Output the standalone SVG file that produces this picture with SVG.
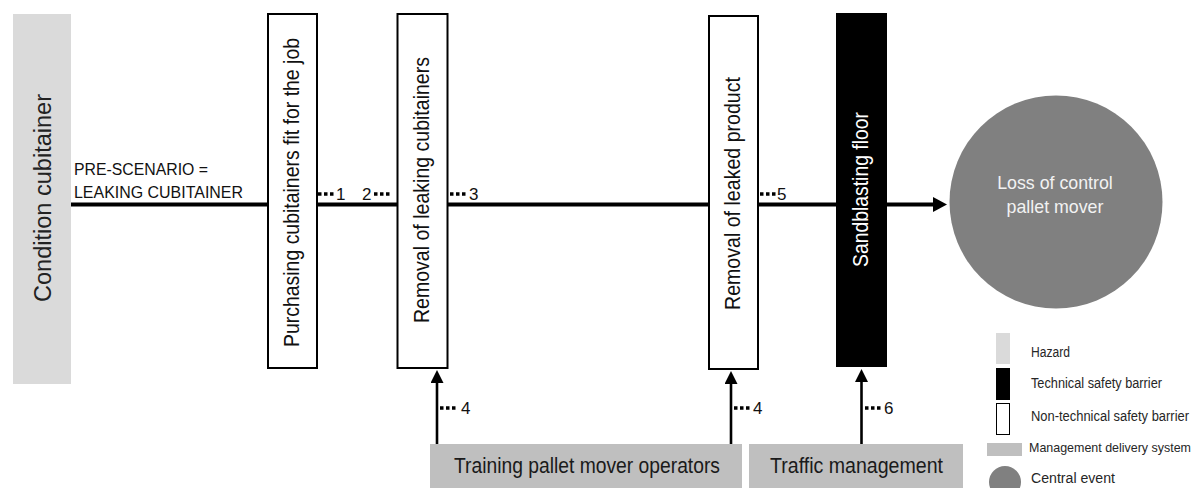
<svg xmlns="http://www.w3.org/2000/svg" width="1200" height="488" viewBox="0 0 1200 488">
<style>
text{font-family:"Liberation Sans",Arial,sans-serif;}
.hz{fill:#dadada;}
.nt{fill:#fff;stroke:#000;stroke-width:2;}
.tb{fill:#000;}
.mg{fill:#bfbfbf;}
.ce{fill:#808080;}
.vt{font-size:21.5px;fill:#111;text-anchor:middle;}
.mt{font-size:21.5px;fill:#1a1a1a;text-anchor:middle;}
.num{font-size:17px;fill:#111;}
.dots{stroke:#000;stroke-width:3.5;stroke-dasharray:3.5 2.5;}
.lg{font-size:14px;fill:#262626;}
.conn{stroke:#000;fill:none;}
</style>
<defs>
<marker id="arrMain" viewBox="0 0 14 15" refX="7" refY="7.5" markerWidth="14" markerHeight="15" markerUnits="userSpaceOnUse" orient="auto"><path d="M0,0 L14,7.5 L0,15 Z" fill="#000"/></marker>
<marker id="arrUp" viewBox="0 0 13 13" refX="5" refY="6.5" markerWidth="13" markerHeight="13" markerUnits="userSpaceOnUse" orient="auto"><path d="M0,0 L13,6.5 L0,13 Z" fill="#000"/></marker>
</defs>

<g id="connectors">
<line class="conn" x1="71" y1="204.5" x2="940" y2="204.5" stroke-width="4" marker-end="url(#arrMain)"/>
<line class="conn" x1="437" y1="444" x2="437" y2="378" stroke-width="2.6" marker-end="url(#arrUp)"/>
<line class="conn" x1="731" y1="444" x2="731" y2="379" stroke-width="2.6" marker-end="url(#arrUp)"/>
<line class="conn" x1="861.5" y1="444" x2="861.5" y2="377" stroke-width="2.6" marker-end="url(#arrUp)"/>
</g>

<g id="hazard">
<rect class="hz" x="13" y="14" width="58" height="370"/>
<text transform="translate(50.5,198) rotate(-90)" font-size="23.5" fill="#222" text-anchor="middle" textLength="208" lengthAdjust="spacingAndGlyphs">Condition cubitainer</text>
</g>

<g id="prescenario">
<text x="74" y="175" font-size="15.8" fill="#111" textLength="134" lengthAdjust="spacingAndGlyphs">PRE-SCENARIO =</text>
<text x="74" y="198" font-size="15.8" fill="#111" textLength="169" lengthAdjust="spacingAndGlyphs">LEAKING CUBITAINER</text>
</g>

<g id="barrier-purchasing">
<rect class="nt" x="268" y="14" width="49" height="354"/>
<text class="vt" transform="translate(299,192.5) rotate(-90)" textLength="309" lengthAdjust="spacingAndGlyphs">Purchasing cubitainers fit for the job</text>
</g>

<g id="barrier-removal-cubitainers">
<rect class="nt" x="397.5" y="14" width="50" height="354"/>
<text class="vt" transform="translate(428.5,190) rotate(-90)" textLength="266" lengthAdjust="spacingAndGlyphs">Removal of leaking cubitainers</text>
</g>

<g id="barrier-removal-product">
<rect class="nt" x="709" y="16" width="49" height="353"/>
<text class="vt" transform="translate(740,193.5) rotate(-90)" textLength="233" lengthAdjust="spacingAndGlyphs">Removal of leaked product</text>
</g>

<g id="barrier-sandblasting">
<rect class="tb" x="836" y="13" width="51" height="354"/>
<text class="vt" transform="translate(867.5,189.5) rotate(-90)" style="fill:#fff" textLength="155" lengthAdjust="spacingAndGlyphs">Sandblasting floor</text>
</g>

<g id="central-event">
<circle class="ce" cx="1056" cy="202" r="106.5"/>
<text x="1055" y="188.5" font-size="17.8" fill="#f2f2f2" text-anchor="middle">Loss of control</text>
<text x="1055" y="213" font-size="17.8" fill="#f2f2f2" text-anchor="middle">pallet mover</text>
</g>

<g id="mds-training">
<rect class="mg" x="430" y="444" width="312" height="44"/>
<text class="mt" x="587" y="473" textLength="266" lengthAdjust="spacingAndGlyphs">Training pallet mover operators</text>
</g>

<g id="mds-traffic">
<rect class="mg" x="749" y="444" width="214" height="44"/>
<text class="mt" x="856.5" y="473" textLength="173" lengthAdjust="spacingAndGlyphs">Traffic management</text>
</g>

<g id="labels">
<line class="dots" x1="318" y1="194" x2="334" y2="194"/>
<text class="num" x="336" y="200">1</text>
<text class="num" x="362" y="200">2</text>
<line class="dots" x1="374" y1="194" x2="390" y2="194"/>
<line class="dots" x1="450" y1="194" x2="466" y2="194"/>
<text class="num" x="469" y="200">3</text>
<line class="dots" x1="760" y1="194" x2="776" y2="194"/>
<text class="num" x="777" y="200">5</text>
<line class="dots" x1="440" y1="408" x2="456" y2="408"/>
<text class="num" x="461" y="414">4</text>
<line class="dots" x1="734" y1="408" x2="750" y2="408"/>
<text class="num" x="753" y="414">4</text>
<line class="dots" x1="865" y1="408" x2="881" y2="408"/>
<text class="num" x="884" y="414">6</text>
</g>

<g id="legend">
<rect class="hz" x="996" y="333" width="14" height="31"/>
<text class="lg" x="1031" y="356.5" textLength="39" lengthAdjust="spacingAndGlyphs">Hazard</text>
<rect class="tb" x="996" y="368" width="14" height="32"/>
<text class="lg" x="1031" y="388" textLength="131" lengthAdjust="spacingAndGlyphs">Technical safety barrier</text>
<rect x="996.5" y="403.5" width="13" height="31" fill="#fff" stroke="#000" stroke-width="1"/>
<text class="lg" x="1031" y="420.5" textLength="158" lengthAdjust="spacingAndGlyphs">Non-technical safety barrier</text>
<rect class="mg" x="987" y="443" width="35" height="13"/>
<text class="lg" x="1029" y="452" font-size="12.8" style="font-size:12.8px" textLength="162" lengthAdjust="spacingAndGlyphs">Management delivery system</text>
<circle class="ce" cx="1005" cy="482" r="16"/>
<text class="lg" x="1031" y="483" textLength="84" lengthAdjust="spacingAndGlyphs">Central event</text>
</g>
</svg>
